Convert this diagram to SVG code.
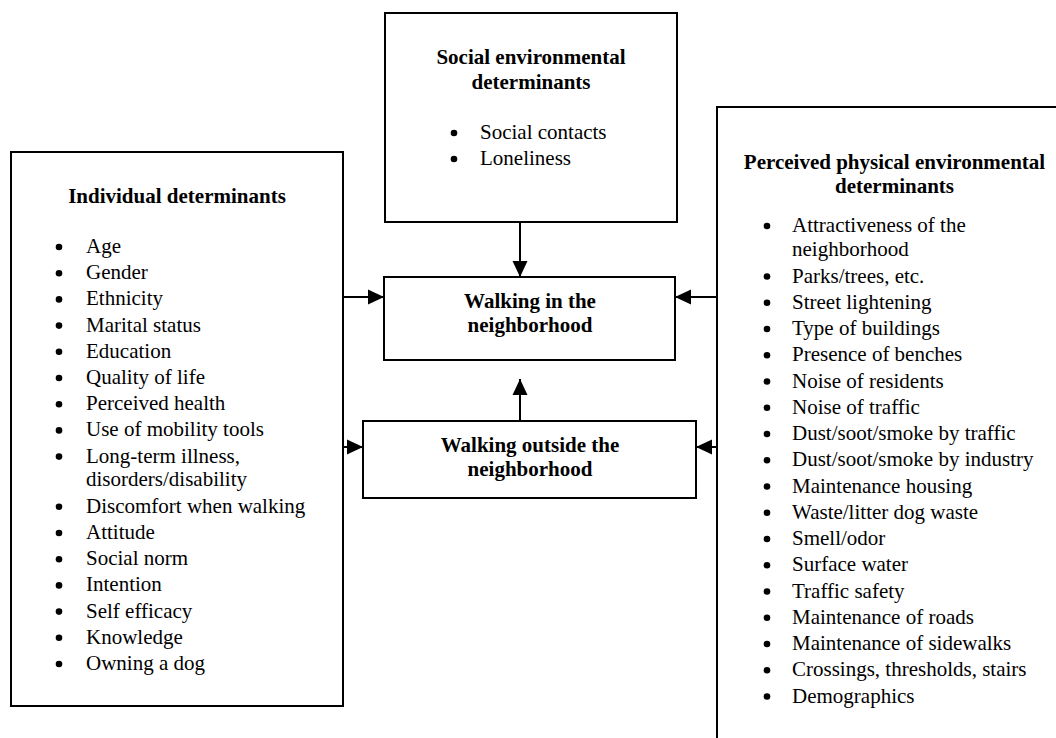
<svg xmlns="http://www.w3.org/2000/svg" width="1056" height="738" viewBox="0 0 1056 738">
<defs>
<style>
.box{fill:#fff;stroke:#000;stroke-width:2}
.t{font-family:"Liberation Serif","Times New Roman",serif;font-size:21px;fill:#000}
.b{font-weight:bold;text-anchor:middle}
.c{stroke:#000;stroke-width:2;fill:none}
.dot{fill:#000}
</style>
<marker id="ah" viewBox="0 0 16 16" refX="16" refY="8" markerWidth="16" markerHeight="16" markerUnits="userSpaceOnUse" orient="auto">
<path d="M0,0.5 L16,8 L0,15.5 z" fill="#000"/>
</marker>
</defs>
<rect width="1056" height="738" fill="#fff"/>

<g id="social">
<rect class="box" x="385" y="13" width="292" height="209"/>
<text class="t b" x="531" y="64">Social environmental</text>
<text class="t b" x="531" y="89">determinants</text>
<circle class="dot" cx="454" cy="133" r="3.3"/>
<text class="t" x="480" y="139">Social contacts</text>
<circle class="dot" cx="454" cy="159" r="3.3"/>
<text class="t" x="480" y="165">Loneliness</text>
</g>

<g id="individual">
<rect class="box" x="11" y="152" width="332" height="554"/>
<text class="t b" x="177" y="203">Individual determinants</text>
<g class="t">
<text x="86" y="253">Age</text>
<text x="86" y="279.2">Gender</text>
<text x="86" y="305.4">Ethnicity</text>
<text x="86" y="331.6">Marital status</text>
<text x="86" y="357.8">Education</text>
<text x="86" y="384">Quality of life</text>
<text x="86" y="410.2">Perceived health</text>
<text x="86" y="436.4">Use of mobility tools</text>
<text x="86" y="462.6">Long-term illness,</text>
<text x="86" y="486.4">disorders/disability</text>
<text x="86" y="512.8">Discomfort when walking</text>
<text x="86" y="539">Attitude</text>
<text x="86" y="565.2">Social norm</text>
<text x="86" y="591.4">Intention</text>
<text x="86" y="617.6">Self efficacy</text>
<text x="86" y="643.8">Knowledge</text>
<text x="86" y="670">Owning a dog</text>
</g>
<g class="dot">
<circle cx="59" cy="247" r="3.3"/>
<circle cx="59" cy="273.2" r="3.3"/>
<circle cx="59" cy="299.4" r="3.3"/>
<circle cx="59" cy="325.6" r="3.3"/>
<circle cx="59" cy="351.8" r="3.3"/>
<circle cx="59" cy="378" r="3.3"/>
<circle cx="59" cy="404.2" r="3.3"/>
<circle cx="59" cy="430.4" r="3.3"/>
<circle cx="59" cy="456.6" r="3.3"/>
<circle cx="59" cy="506.8" r="3.3"/>
<circle cx="59" cy="533" r="3.3"/>
<circle cx="59" cy="559.2" r="3.3"/>
<circle cx="59" cy="585.4" r="3.3"/>
<circle cx="59" cy="611.6" r="3.3"/>
<circle cx="59" cy="637.8" r="3.3"/>
<circle cx="59" cy="664" r="3.3"/>
</g>
</g>

<g id="physical">
<rect class="box" x="717" y="107" width="400" height="700"/>
<text class="t b" x="894.5" y="169">Perceived physical environmental</text>
<text class="t b" x="894.5" y="193">determinants</text>
<g class="t">
<text x="792" y="232">Attractiveness of the</text>
<text x="792" y="256">neighborhood</text>
<text x="792" y="282.5">Parks/trees, etc.</text>
<text x="792" y="308.7">Street lightening</text>
<text x="792" y="335">Type of buildings</text>
<text x="792" y="361.2">Presence of benches</text>
<text x="792" y="387.5">Noise of residents</text>
<text x="792" y="413.7">Noise of traffic</text>
<text x="792" y="440">Dust/soot/smoke by traffic</text>
<text x="792" y="466.2">Dust/soot/smoke by industry</text>
<text x="792" y="492.5">Maintenance housing</text>
<text x="792" y="518.7">Waste/litter dog waste</text>
<text x="792" y="545">Smell/odor</text>
<text x="792" y="571.2">Surface water</text>
<text x="792" y="597.5">Traffic safety</text>
<text x="792" y="623.7">Maintenance of roads</text>
<text x="792" y="650">Maintenance of sidewalks</text>
<text x="792" y="676.2">Crossings, thresholds, stairs</text>
<text x="792" y="702.5">Demographics</text>
</g>
<g class="dot">
<circle cx="767" cy="226" r="3.3"/>
<circle cx="767" cy="276.5" r="3.3"/>
<circle cx="767" cy="302.7" r="3.3"/>
<circle cx="767" cy="329" r="3.3"/>
<circle cx="767" cy="355.2" r="3.3"/>
<circle cx="767" cy="381.5" r="3.3"/>
<circle cx="767" cy="407.7" r="3.3"/>
<circle cx="767" cy="434" r="3.3"/>
<circle cx="767" cy="460.2" r="3.3"/>
<circle cx="767" cy="486.5" r="3.3"/>
<circle cx="767" cy="512.7" r="3.3"/>
<circle cx="767" cy="539" r="3.3"/>
<circle cx="767" cy="565.2" r="3.3"/>
<circle cx="767" cy="591.5" r="3.3"/>
<circle cx="767" cy="617.7" r="3.3"/>
<circle cx="767" cy="644" r="3.3"/>
<circle cx="767" cy="670.2" r="3.3"/>
<circle cx="767" cy="696.5" r="3.3"/>
</g>
</g>

<g id="walking-in">
<rect class="box" x="384" y="277" width="291" height="83"/>
<text class="t b" x="530" y="308">Walking in the</text>
<text class="t b" x="530" y="332">neighborhood</text>
</g>

<g id="walking-outside">
<rect class="box" x="363" y="421" width="333" height="77"/>
<text class="t b" x="530" y="452">Walking outside the</text>
<text class="t b" x="530" y="476">neighborhood</text>
</g>

<g id="connectors">
<line class="c" x1="520" y1="222" x2="520" y2="277" marker-end="url(#ah)"/>
<line class="c" x1="520" y1="421" x2="520" y2="379" marker-end="url(#ah)"/>
<line class="c" x1="343" y1="297" x2="384" y2="297" marker-end="url(#ah)"/>
<line class="c" x1="343" y1="447" x2="363" y2="447" marker-end="url(#ah)"/>
<line class="c" x1="717" y1="297" x2="675" y2="297" marker-end="url(#ah)"/>
<line class="c" x1="717" y1="447" x2="696" y2="447" marker-end="url(#ah)"/>
</g>
</svg>
